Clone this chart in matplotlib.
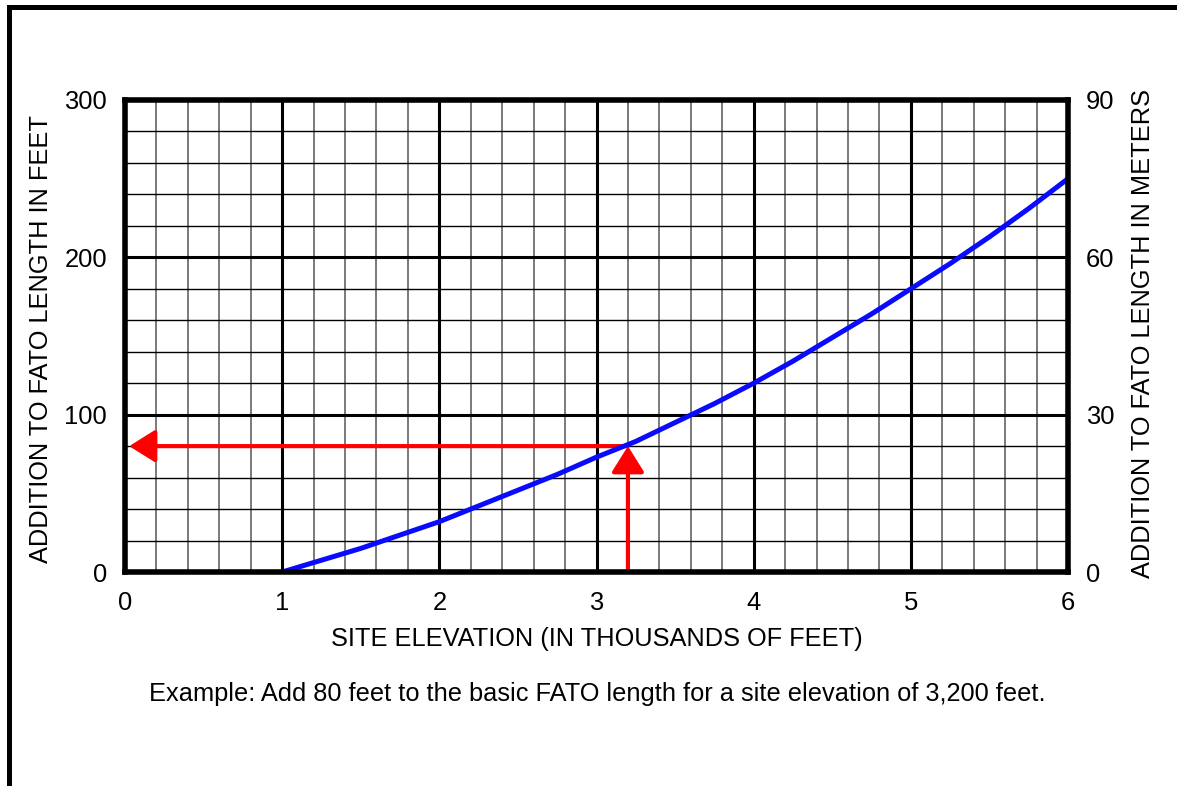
import matplotlib
matplotlib.use('Agg')
import matplotlib.pyplot as plt
from matplotlib.lines import Line2D
import numpy as np

# ---- data ----
elevation_kft = [1.0, 1.25, 1.5, 1.75, 2.0, 2.25, 2.5, 2.75, 3.0, 3.25, 3.5,
                 3.75, 4.0, 4.25, 4.5, 4.75, 5.0, 5.25, 5.5, 5.75, 6.0]
addition_ft = [0, 7.5, 15, 23.5, 32, 42, 52, 62, 73, 83, 95,
               107, 120, 134, 149, 164, 180, 196, 213, 231, 250]
x_ticks = [0, 1, 2, 3, 4, 5, 6]
y_ticks_ft = [0, 100, 200, 300]
y_ticks_m = [0, 30, 60, 90]
example_elev = 3.2
example_add = 80

plt.rcParams['font.family'] = ['Liberation Sans', 'DejaVu Sans']

W, H = 1177, 786
fig = plt.figure(figsize=(W / 100, H / 100), dpi=100)
fig.patch.set_facecolor('white')

L, R, T, B = 125, 1068, 100, 572
ax = fig.add_axes([L / W, 1 - B / H, (R - L) / W, (B - T) / H])
ax.set_xlim(0, 6)
ax.set_ylim(0, 300)
ax.set_xticks(x_ticks)
ax.set_yticks(y_ticks_ft)
ax.set_xticks(np.arange(0, 6.001, 0.2), minor=True)
ax.set_yticks(np.arange(0, 300.1, 20), minor=True)

ax.xaxis.grid(True, which='minor', color='#7a7a7a', lw=1.4, zorder=1)
ax.yaxis.grid(True, which='minor', color='black', lw=1.0, zorder=1)
ax.grid(True, which='major', color='black', lw=2.2, zorder=1)
ax.set_axisbelow(True)

ax.tick_params(which='both', length=0)
ax.tick_params(axis='x', which='major', labelsize=18.4, pad=14)
ax.tick_params(axis='y', which='major', labelsize=18.4, pad=13)

for sp in ax.spines.values():
    sp.set_linewidth(4.0)
    sp.set_color('black')
    sp.set_zorder(6)

# curve
ax.plot(elevation_kft, addition_ft, color='#0a0aff', lw=3.6, zorder=5,
        solid_capstyle='butt')

# example arrows
arrow_style = '-|>,head_length=0.8,head_width=0.5'
ax.annotate('', xy=(0, example_add), xytext=(example_elev, example_add),
            arrowprops=dict(arrowstyle=arrow_style, color='red', lw=3,
                            mutation_scale=20, shrinkA=0, shrinkB=3),
            zorder=4)
ax.annotate('', xy=(example_elev, example_add), xytext=(example_elev, 0),
            arrowprops=dict(arrowstyle=arrow_style, color='red', lw=3,
                            mutation_scale=20, shrinkA=0, shrinkB=0),
            zorder=4)

ax.set_xlabel('SITE ELEVATION (IN THOUSANDS OF FEET)', fontsize=18.3)
ax.xaxis.set_label_coords(0.5, (B - 627) / (B - T))
ax.set_ylabel('ADDITION TO FATO LENGTH IN FEET', fontsize=18.3)
ax.yaxis.set_label_coords((53 - L) / (R - L), (B - 339.5) / (B - T))

ax2 = ax.twinx()
ax2.set_ylim(0, 90)
ax2.set_yticks(y_ticks_m)
ax2.tick_params(length=0, labelsize=18.4, pad=13)
for sp in ax2.spines.values():
    sp.set_visible(False)
ax2.set_ylabel('ADDITION TO FATO LENGTH IN METERS', fontsize=18.3)
ax2.yaxis.set_label_coords((1131 - L) / (R - L), (B - 333.5) / (B - T))

fig.text(597 / W, 1 - 694 / H,
         'Example: Add 80 feet to the basic FATO length for a site elevation of 3,200 feet.',
         ha='center', va='center', fontsize=18.3)

# page border (top and left)
fig.add_artist(Line2D([8.5 / W, 1.0], [1 - 6.5 / H, 1 - 6.5 / H],
                      transform=fig.transFigure, color='black', lw=3.6,
                      solid_capstyle='butt'))
fig.add_artist(Line2D([8.5 / W, 8.5 / W], [0, 1 - 6.5 / H],
                      transform=fig.transFigure, color='black', lw=3.6,
                      solid_capstyle='projecting'))

fig.savefig('out.png', dpi=100)
